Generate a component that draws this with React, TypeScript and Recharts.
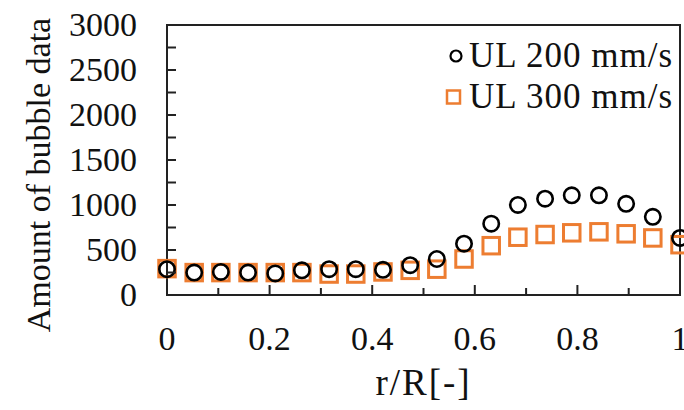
import React from "react";
import {
  ScatterChart,
  Scatter,
  XAxis,
  YAxis,
  ReferenceArea,
} from "recharts";

// r/R positions of the measurement points
const radialPos = [
  0, 0.053, 0.105, 0.158, 0.211, 0.263, 0.316, 0.368, 0.421, 0.474, 0.526,
  0.579, 0.632, 0.684, 0.737, 0.789, 0.842, 0.895, 0.947, 1,
];

const ul200 = [
  287, 249, 256, 249, 240, 274, 287, 287, 280, 331, 400, 570, 793, 1001, 1070,
  1108, 1108, 1013, 869, 634,
];

const ul300 = [
  293, 249, 249, 249, 249, 249, 233, 233, 256, 274, 287, 400, 548, 642, 672,
  691, 702, 680, 634, 559,
];

const xTicks = [0, 0.1, 0.2, 0.3, 0.4, 0.5, 0.6, 0.7, 0.8, 0.9, 1];
const yTicks = [
  0, 250, 500, 750, 1000, 1250, 1500, 1750, 2000, 2250, 2500, 2750, 3000,
];
const seriesNames = ["UL 200 mm/s", "UL 300 mm/s"];

const ORANGE = "#ED7D31";
const FONT = "'Liberation Serif', 'Times New Roman', serif";

const series200 = radialPos.map((x, i) => ({ x, y: ul200[i] }));
const series300 = radialPos.map((x, i) => ({ x, y: ul300[i] }));

const Y_MARGIN = 30;
const X_MARGIN = 0;

function YTick(props: any) {
  const { x, y, payload } = props;
  const v = payload.value;
  const axisX = x + Y_MARGIN;
  return (
    <g>
      <line x1={axisX} x2={axisX + 9} y1={y} y2={y} stroke="#222" strokeWidth={2} />
      {v % 500 === 0 && (
        <text
          x={x}
          y={y + 11}
          textAnchor="end"
          fontSize={34}
          fontFamily={FONT}
          fill="#111"
        >
          {v}
        </text>
      )}
    </g>
  );
}

function XTick(props: any) {
  const { x, y, payload } = props;
  const v = payload.value;
  const axisY = y - X_MARGIN;
  const major = Math.round(v * 10) % 2 === 0;
  return (
    <g>
      <line
        x1={x}
        x2={x}
        y1={axisY}
        y2={axisY - (major ? 10 : 7)}
        stroke="#222"
        strokeWidth={2}
      />
      {major && (
        <text
          x={x}
          y={axisY + 55}
          textAnchor="middle"
          fontSize={34}
          fontFamily={FONT}
          fill="#111"
        >
          {String(Math.round(v * 10) / 10)}
        </text>
      )}
    </g>
  );
}

function CircleShape(props: any) {
  return (
    <circle
      cx={props.cx}
      cy={props.cy}
      r={7.7}
      fill="none"
      stroke="#000"
      strokeWidth={2.6}
    />
  );
}

function SquareShape(props: any) {
  const s = 16.5;
  return (
    <rect
      x={props.cx - s / 2}
      y={props.cy - s / 2}
      width={s}
      height={s}
      fill="none"
      stroke={ORANGE}
      strokeWidth={3}
    />
  );
}

function LegendBox() {
  const row: React.CSSProperties = {
    display: "flex",
    alignItems: "center",
    height: 41,
    fontFamily: FONT,
    fontSize: 35,
    letterSpacing: 1,
    color: "#111",
    whiteSpace: "nowrap",
  };
  return (
    <div style={{ position: "absolute", left: 440, top: 35 }}>
      <div style={row}>
        <svg width={26} height={20} style={{ marginRight: 3 }}>
          <circle cx={16} cy={10} r={5.5} fill="none" stroke="#000" strokeWidth={2.2} />
        </svg>
        {seriesNames[0]}
      </div>
      <div style={row}>
        <svg width={26} height={20} style={{ marginRight: 3 }}>
          <rect x={7} y={3.5} width={13} height={13} fill="none" stroke={ORANGE} strokeWidth={2.5} />
        </svg>
        {seriesNames[1]}
      </div>
    </div>
  );
}

export default function App() {
  return (
    <div
      style={{
        position: "absolute",
        left: 0,
        top: 0,
        width: 684,
        height: 410,
        background: "#fff",
      }}
    >
      <ScatterChart
        width={684}
        height={410}
        margin={{ top: 25, right: 4, bottom: 0, left: 0 }}
      >
        <XAxis
          type="number"
          dataKey="x"
          domain={[0, 1]}
          ticks={xTicks}
          interval={0}
          axisLine={false}
          tickLine={false}
          tickSize={0}
          tickMargin={X_MARGIN}
          height={115}
          tick={<XTick />}
          label={{
            value: "r/R[-]",
            position: "insideTop",
            offset: 74,
            fontSize: 37,
            letterSpacing: 2,
            fontFamily: FONT,
            fill: "#111",
          }}
        />
        <YAxis
          type="number"
          dataKey="y"
          domain={[0, 3000]}
          ticks={yTicks}
          interval={0}
          axisLine={false}
          tickLine={false}
          tickSize={0}
          tickMargin={Y_MARGIN}
          width={167}
          tick={<YTick />}
          label={{
            value: "Amount of bubble data",
            angle: -90,
            position: "center",
            dx: -46,
            dy: 15,
            fontSize: 34,
            fontFamily: FONT,
            fill: "#111",
          }}
        />
        <ReferenceArea
          x1={0}
          x2={1}
          y1={0}
          y2={3000}
          fill="none"
          stroke="#222"
          strokeWidth={2}
          ifOverflow="extendDomain"
        />
        <Scatter
          name={seriesNames[1]}
          data={series300}
          shape={<SquareShape />}
          isAnimationActive={false}
        />
        <Scatter
          name={seriesNames[0]}
          data={series200}
          shape={<CircleShape />}
          isAnimationActive={false}
        />
      </ScatterChart>
      <LegendBox />
    </div>
  );
}
